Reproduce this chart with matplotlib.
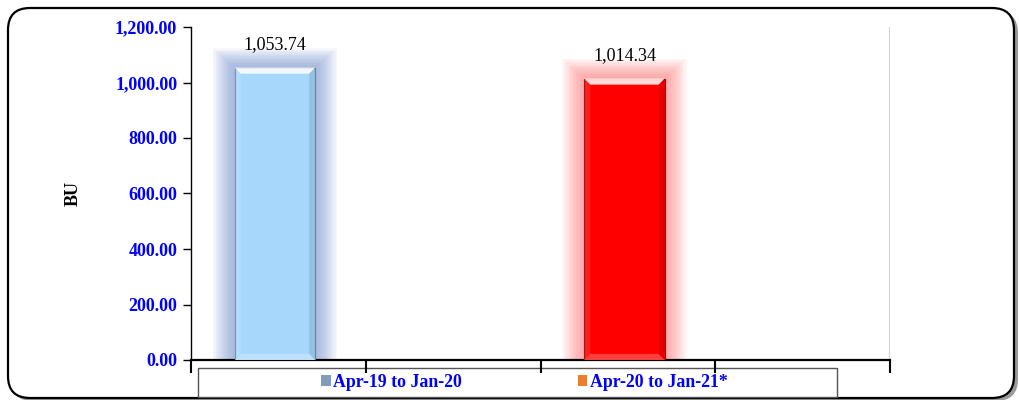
import numpy as np
import matplotlib
matplotlib.use("Agg")
from matplotlib import pyplot as plt
from matplotlib.patches import FancyBboxPatch, Rectangle, Polygon, Patch
from matplotlib.transforms import IdentityTransform
from matplotlib.ticker import FuncFormatter

# 数据
periods = ["Apr-19 to Jan-20", "Apr-20 to Jan-21*"]
values = [1053.74, 1014.34]
slots = [0, 2]          # 每个柱子所在的分类格
n_slots = 4
yticks = [0, 200, 400, 600, 800, 1000, 1200]

bar_colors = ["#A7D8FB", "#FF0000"]
glow_colors = ["#6F8FD0", "#FF7070"]
legend_colors = ["#7F9DB9", "#ED7D31"]

serif = ["Liberation Serif", "DejaVu Serif"]
plt.rcParams["font.family"] = serif

fig = plt.figure(figsize=(10.2, 4.0), dpi=100)

# 外框（圆角 + 阴影）
shadow = FancyBboxPatch((11, -1), 1007, 390, boxstyle="round,pad=0,rounding_size=22",
                        transform=IdentityTransform(), facecolor="#9a9a9a",
                        edgecolor="none", zorder=0)
frame = FancyBboxPatch((8, 2), 1006, 390, boxstyle="round,pad=0,rounding_size=22",
                       transform=IdentityTransform(), facecolor="white",
                       edgecolor="black", linewidth=1.6, zorder=1)
fig.patches.extend([shadow, frame])

ax = fig.add_axes([0.1873, 0.1, 0.6853, 0.8325])
ax.set_zorder(3)
ax.set_facecolor("none")
ax.set_xlim(0, n_slots)
ax.set_ylim(0, 1200)

width = 0.46
bev_x = 0.034
bev_y = 22

for s, v, c, g in zip(slots, values, bar_colors, glow_colors):
    xc = s + 0.48
    x0, x1 = xc - width / 2, xc + width / 2
    # 发光效果
    for k in range(14, 0, -1):
        ax.add_patch(Rectangle((x0 - 0.009 * k, 0), width + 0.018 * k, v + 5 * k,
                               facecolor=g, edgecolor="none", alpha=0.06, zorder=2))
    ax.bar(xc, v, width=width, color=c, edgecolor="#6f8096" if s == 0 else "#9a0000",
           linewidth=0.8, zorder=3)
    # 斜面
    top = Polygon([(x0, v), (x1, v), (x1 - bev_x, v - bev_y), (x0 + bev_x, v - bev_y)],
                  closed=True, facecolor="white", alpha=0.85, edgecolor="none", zorder=4)
    bot = Polygon([(x0, 0), (x1, 0), (x1 - bev_x, bev_y), (x0 + bev_x, bev_y)],
                  closed=True, facecolor="white", alpha=0.25, edgecolor="none", zorder=4)
    left = Polygon([(x0, 0), (x0, v), (x0 + bev_x, v - bev_y), (x0 + bev_x, bev_y)],
                   closed=True, facecolor="white", alpha=0.12, edgecolor="none", zorder=4)
    right = Polygon([(x1, 0), (x1, v), (x1 - bev_x, v - bev_y), (x1 - bev_x, bev_y)],
                    closed=True, facecolor="black", alpha=0.10, edgecolor="none", zorder=4)
    for p in (top, bot, left, right):
        ax.add_patch(p)
    ax.text(xc, v + 52, f"{v:,.2f}", ha="center", va="bottom", fontsize=13,
            color="black", zorder=5)

ax.axvline(n_slots, color="#BDD7EE", linewidth=1.5, zorder=1)

ax.spines["top"].set_visible(False)
ax.spines["right"].set_visible(False)
ax.spines["left"].set_linewidth(1.0)
ax.spines["bottom"].set_linewidth(1.6)

ax.set_yticks(yticks)
ax.yaxis.set_major_formatter(FuncFormatter(lambda y, _: f"{y:,.2f}"))
ax.tick_params(axis="y", direction="out", length=6, width=1, colors="black",
               labelcolor="#0000FF", labelsize=13, pad=4)
for lab in ax.get_yticklabels():
    lab.set_fontweight("bold")
ax.set_xticks(range(n_slots + 1))
ax.set_xticklabels([])
ax.tick_params(axis="x", direction="out", length=9, width=1.5)

ax.set_ylabel("BU", fontsize=13, fontweight="bold", labelpad=24)

# 图例
fig.patches.append(Rectangle((198, 3), 639, 29, transform=IdentityTransform(),
                             facecolor="white", edgecolor="#555555", linewidth=1.0,
                             zorder=2))
handles = [Patch(facecolor=c, edgecolor="none") for c in legend_colors]
leg = fig.legend(handles, periods, loc="center", bbox_to_anchor=(0.514, 0.044),
                 ncol=2, frameon=False, handlelength=0.55, handleheight=0.55,
                 handletextpad=0.15, columnspacing=6.5,
                 prop={"family": serif, "weight": "bold", "size": 12.8})
for t in leg.get_texts():
    t.set_color("#0000FF")

fig.savefig("out.png", dpi=100)
